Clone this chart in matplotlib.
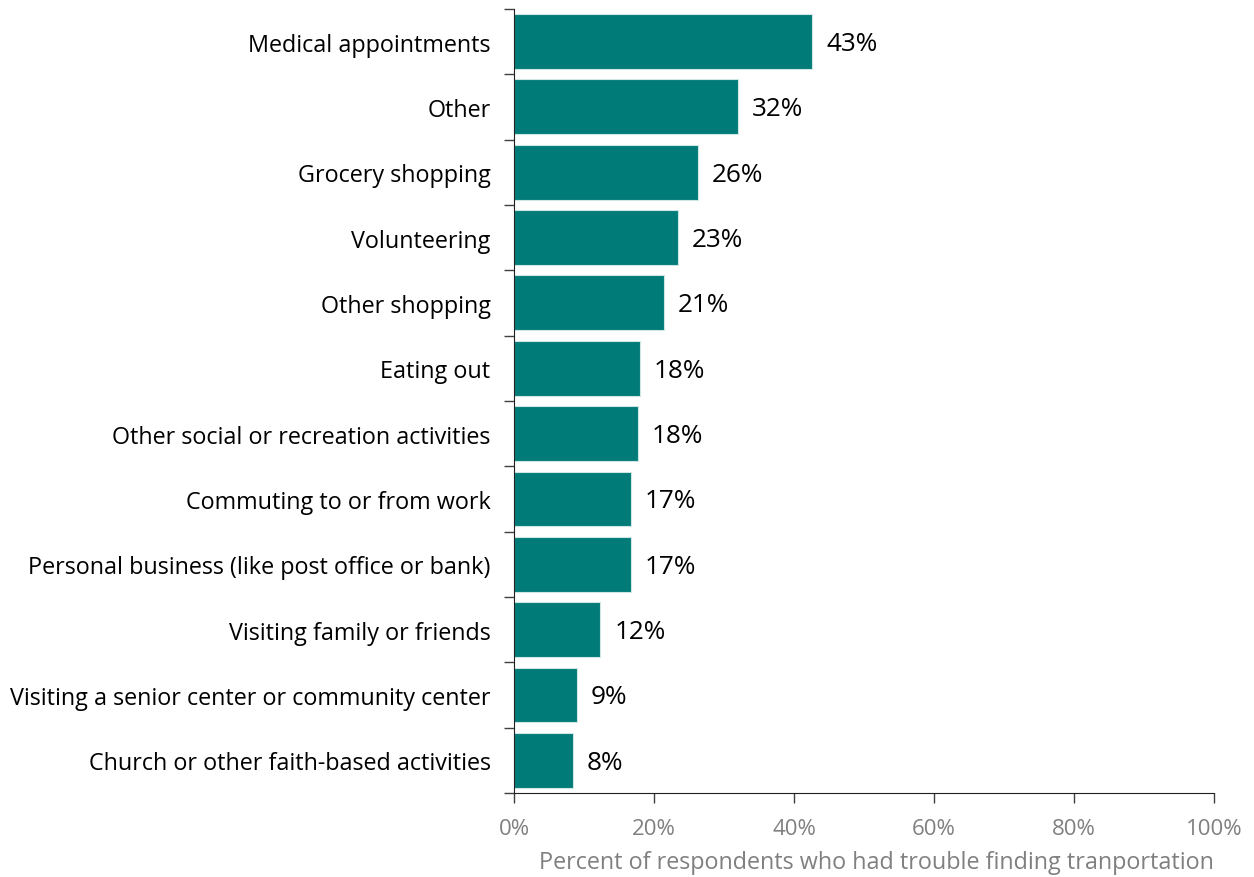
import matplotlib
matplotlib.use("Agg")
import matplotlib.pyplot as plt
from matplotlib.ticker import PercentFormatter

plt.rcParams['font.family'] = ['Open Sans', 'DejaVu Sans']

categories = ['Medical appointments', 'Other', 'Grocery shopping', 'Volunteering',
              'Other shopping', 'Eating out', 'Other social or recreation activities',
              'Commuting to or from work', 'Personal business (like post office or bank)',
              'Visiting family or friends', 'Visiting a senior center or community center',
              'Church or other faith-based activities']
values = [42.6, 32.0, 26.3, 23.4, 21.4, 18.0, 17.7, 16.7, 16.7, 12.3, 9.0, 8.4]
labels = ['43%', '32%', '26%', '23%', '21%', '18%', '18%', '17%', '17%', '12%', '9%', '8%']

fig = plt.figure(figsize=(12.54, 8.78), dpi=100)
ax = fig.add_axes([0.41, 0.0957, 0.558, 0.893])

y = list(range(len(categories)))
ax.barh(y, values, height=0.84, color='#007B78', edgecolor='#cfe6e5', linewidth=0.8)
for yi, v, lab in zip(y, values, labels):
    ax.text(v + 2, yi + 0.03, lab, va='center', ha='left', fontsize=18.8, color='black')

ax.set_xlim(0, 100)
ax.set_ylim(len(categories) - 0.5, -0.5)
ax.set_xticks([0, 20, 40, 60, 80, 100])
ax.xaxis.set_major_formatter(PercentFormatter(decimals=0))
ax.set_yticks(y)
ax.set_yticklabels(categories, fontsize=16.8)
ax.set_yticks([i - 0.5 for i in range(len(categories) + 1)], minor=True)
ax.tick_params(axis='y', which='major', length=0, pad=17)
ax.tick_params(axis='y', which='minor', length=7, width=1, color='#404040')
ax.tick_params(axis='x', length=7, width=1, color='#404040', labelsize=16,
               labelcolor='#808080', pad=11)

for s in ['top', 'right']:
    ax.spines[s].set_visible(False)
ax.spines['left'].set_color('#202020')
ax.spines['bottom'].set_color('#202020')

ax.set_xlabel('Percent of respondents who had trouble finding tranportation',
              fontsize=16.8, color='#808080', labelpad=8, loc='right')

fig.savefig('out.png', dpi=100)
